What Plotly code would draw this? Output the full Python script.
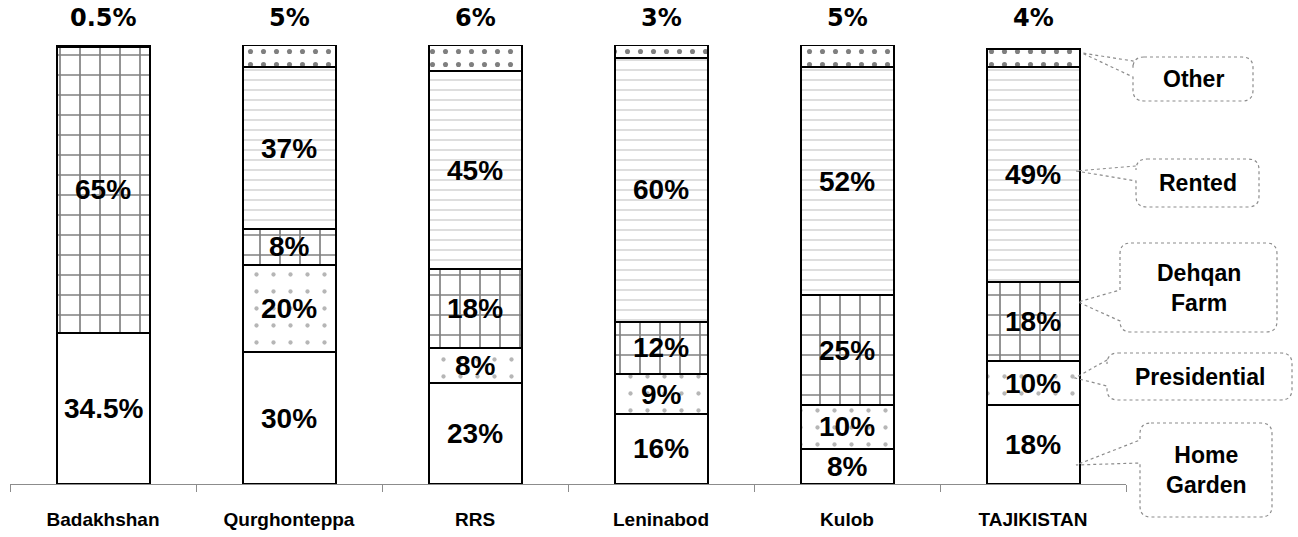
import plotly.graph_objects as go

# Land tenure shares by region (percent of cultivated plots)
regions = ["Badakhshan", "Qurghonteppa", "RRS", "Leninabod", "Kulob", "TAJIKISTAN"]
home_garden = [34.5, 30, 23, 16, 8, 18]
presidential = [0, 20, 8, 9, 10, 10]
dehqan_farm = [65, 8, 18, 12, 25, 18]
rented = [0, 37, 45, 60, 52, 49]
other = [0.5, 5, 6, 3, 5, 4]

series_names = ["Home Garden", "Presidential", "Dehqan Farm", "Rented", "Other"]
series_values = [home_garden, presidential, dehqan_farm, rented, other]

patterns = {
    "Home Garden": dict(shape=""),
    "Presidential": dict(shape=".", fgcolor="#6e6e6e", bgcolor="white", size=17, solidity=0.05),
    "Dehqan Farm": dict(shape="+", fgcolor="black", bgcolor="white", size=20, solidity=0.16),
    "Rented": dict(shape="-", fgcolor="#ababab", bgcolor="white", size=10, solidity=0.16),
    "Other": dict(shape=".", fgcolor="black", bgcolor="white", size=13, solidity=0.12),
}

# plot-area geometry in pixels (used for callout decorations)
W, H = 1298, 537
ML, MR, MT, MB = 10, 172, 45, 53
PW, PH = W - ML - MR, H - MT - MB


def paper(xp, yp):
    return (xp - ML) / PW, (H - MB - yp) / PH


fig = go.Figure()
for name, vals in zip(series_names, series_values):
    fig.add_trace(go.Bar(
        x=regions, y=vals, name=name, width=0.5,
        marker=dict(color="white", line=dict(color="black", width=2),
                    pattern=patterns[name]),
        hoverinfo="x+y+name",
    ))

annotations = []
pct_font = dict(family="Liberation Sans, Arial, sans-serif", size=28, color="black", weight="bold")
top_font = dict(family="DejaVu Sans, sans-serif", size=24, color="black", weight="bold")

# value labels centred in each segment; the Other share is written above each bar
for i, region in enumerate(regions):
    base = 0
    for name, vals in zip(series_names, series_values):
        v = vals[i]
        if name != "Other" and v > 0:
            annotations.append(dict(x=region, y=base + v / 2, xref="x", yref="y",
                                    text=f"{v:g}%", showarrow=False, font=pct_font,
                                    xanchor="center", yanchor="middle"))
        base += v
    annotations.append(dict(x=region, y=100, xref="x", yref="y", text=f"{other[i]:g}%",
                            showarrow=False, yshift=27, font=top_font,
                            xanchor="center", yanchor="middle"))

# callout boxes naming the segments of the national bar
callouts = [
    # text, box (x0, y0, x1, y1), pointer attach ys on box left edge, tip
    ("Other", (1133, 57, 1253, 101), (61, 77), (1082, 53)),
    ("Rented", (1136, 159, 1259, 207), (166, 181), (1076, 171)),
    ("Dehqan<br>Farm", (1120, 243, 1277, 332), (290, 321), (1078, 302)),
    ("Presidential", (1107, 353, 1292, 400), (360, 386), (1075, 378)),
    ("Home<br>Garden", (1140, 423, 1272, 517), (440, 463), (1076, 465)),
]
label_font = dict(family="Liberation Sans, Arial, sans-serif", size=23,
                  color="black", weight="bold")
shapes = []
r = 11
for text, (x0, y0, x1, y1), (pa, pb), (tx, ty) in callouts:
    pts = [
        ("M", [(x0 + r, y0)]), ("L", [(x1 - r, y0)]), ("Q", [(x1, y0), (x1, y0 + r)]),
        ("L", [(x1, y1 - r)]), ("Q", [(x1, y1), (x1 - r, y1)]), ("L", [(x0 + r, y1)]),
        ("Q", [(x0, y1), (x0, y1 - r)]), ("L", [(x0, pb)]), ("L", [(tx, ty)]),
        ("L", [(x0, pa)]), ("L", [(x0, y0 + r)]), ("Q", [(x0, y0), (x0 + r, y0)]),
    ]
    path = ""
    for cmd, cps in pts:
        path += cmd + " " + " ".join(f"{paper(a, b)[0]:.5f},{paper(a, b)[1]:.5f}" for a, b in cps) + " "
    path += "Z"
    shapes.append(dict(type="path", path=path, xref="paper", yref="paper",
                       line=dict(color="#8c8c8c", width=1.2, dash="dot"),
                       fillcolor="rgba(0,0,0,0)", layer="above"))
    cx, cy = paper((x0 + x1) / 2, (y0 + y1) / 2)
    annotations.append(dict(x=cx, y=cy, xref="paper", yref="paper", text=text,
                            showarrow=False, font=label_font, align="center",
                            xanchor="center", yanchor="middle"))

fig.update_layout(
    width=W, height=H,
    margin=dict(l=ML, r=MR, t=MT, b=MB, pad=0, autoexpand=False),
    barmode="stack",
    showlegend=False,
    plot_bgcolor="white", paper_bgcolor="white",
    annotations=annotations,
    shapes=shapes,
    xaxis=dict(
        range=[-0.5, 5.5], showgrid=False, showline=True, linecolor="#8c8c8c", linewidth=1,
        ticks="outside", tickson="boundaries", ticklen=7, tickcolor="#8c8c8c", tickwidth=1,
        ticklabelstandoff=18, automargin=False,
        tickfont=dict(family="Liberation Sans, Arial, sans-serif", size=19,
                      color="black", weight="bold"),
    ),
    yaxis=dict(range=[0, 100], visible=False, showgrid=False, zeroline=False, automargin=False),
)

fig.write_html("out.html")
